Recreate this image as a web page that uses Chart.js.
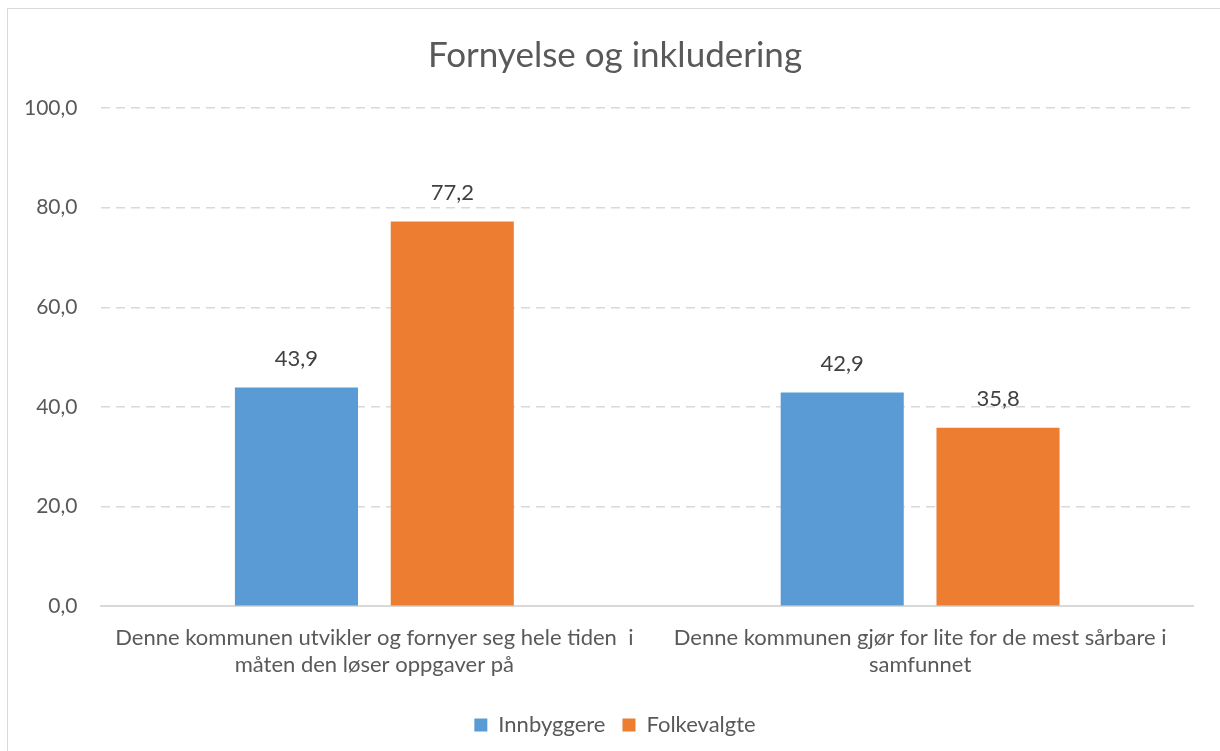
<!DOCTYPE html>
<html>
<head>
<meta charset="utf-8">
<script src="https://cdn.jsdelivr.net/npm/chart.js@4"></script>
<style>
  html, body { margin: 0; padding: 0; background: #fff; overflow: hidden; }
  #frame { position: absolute; left: 7px; top: 8px; width: 1400px; height: 900px; border: 1px solid #d9d9d9; box-sizing: border-box; }
  #wrap { position: absolute; left: 0; top: 0; width: 1230px; height: 751px; }
</style>
</head>
<body>
<div id="frame"></div>
<div id="wrap"><canvas id="chart"></canvas></div>
<script>
// Chart data
const categories = [
    ['Denne kommunen utvikler og fornyer seg hele tiden  i', 'måten den løser oppgaver på'],
    ['Denne kommunen gjør for lite for de mest sårbare i', 'samfunnet']
];
const innbyggere = [43.9, 42.9];
const folkevalgte = [77.2, 35.8];
const yTicks = [0, 20, 40, 60, 80, 100];

const fontFamily = 'Lato, "Open Sans", sans-serif';
const fmt = v => v.toFixed(1).replace('.', ',');

// draws the value above each bar
const valueLabels = {
    id: 'valueLabels',
    afterDatasetsDraw(chart) {
        const ctx = chart.ctx;
        ctx.save();
        ctx.font = '22px ' + fontFamily;
        ctx.fillStyle = '#404040';
        ctx.textAlign = 'center';
        ctx.textBaseline = 'middle';
        chart.data.datasets.forEach((ds, i) => {
            chart.getDatasetMeta(i).data.forEach((bar, j) => {
                ctx.fillText(fmt(ds.data[j]), bar.x, bar.y - 29);
            });
        });
        ctx.restore();
    }
};

new Chart(document.getElementById('chart'), {
    type: 'bar',
    data: {
        labels: categories,
        datasets: [{
            label: 'Innbyggere',
            data: innbyggere,
            backgroundColor: '#5b9bd5'
        }, {
            label: 'Folkevalgte',
            data: folkevalgte,
            backgroundColor: '#ed7d31'
        }]
    },
    options: {
        responsive: true,
        maintainAspectRatio: false,
        animation: false,
        categoryPercentage: 0.571,
        barPercentage: 0.79,
        layout: { padding: { left: 0, right: 0, top: 10, bottom: 5 } },
        scales: {
            y: {
                min: 0,
                max: 100,
                afterBuildTicks: axis => { axis.ticks = yTicks.map(v => ({ value: v })); },
                ticks: {
                    color: '#595959',
                    font: { size: 21, family: fontFamily },
                    padding: 24,
                    callback: v => fmt(v)
                },
                grid: {
                    color: '#d9d9d9',
                    lineWidth: 1.5,
                    drawTicks: false
                },
                border: { display: false, dash: [9, 6] }
            },
            // empty right axis, only keeps space so title and legend sit centred
            yRight: {
                position: 'right',
                min: 0,
                max: 100,
                ticks: { display: false },
                grid: { display: false, drawTicks: false },
                border: { display: false },
                afterFit: axis => { axis.width = 37; }
            },
            x: {
                ticks: {
                    color: '#595959',
                    font: { size: 22, family: fontFamily, lineHeight: 1.2 },
                    padding: 19,
                    maxRotation: 0
                },
                grid: { display: false, drawTicks: false },
                border: { color: '#d9d9d9', width: 2 }
            }
        },
        plugins: {
            title: {
                display: true,
                text: 'Fornyelse og inkludering',
                color: '#595959',
                font: { size: 35, family: fontFamily, weight: 'normal' },
                padding: { top: 25, bottom: 31 }
            },
            legend: {
                position: 'bottom',
                labels: {
                    color: '#595959',
                    font: { size: 22, family: fontFamily },
                    boxWidth: 13,
                    boxHeight: 13,
                    padding: 17
                }
            },
            tooltip: { enabled: false }
        }
    },
    plugins: [valueLabels]
});
</script>
</body>
</html>
